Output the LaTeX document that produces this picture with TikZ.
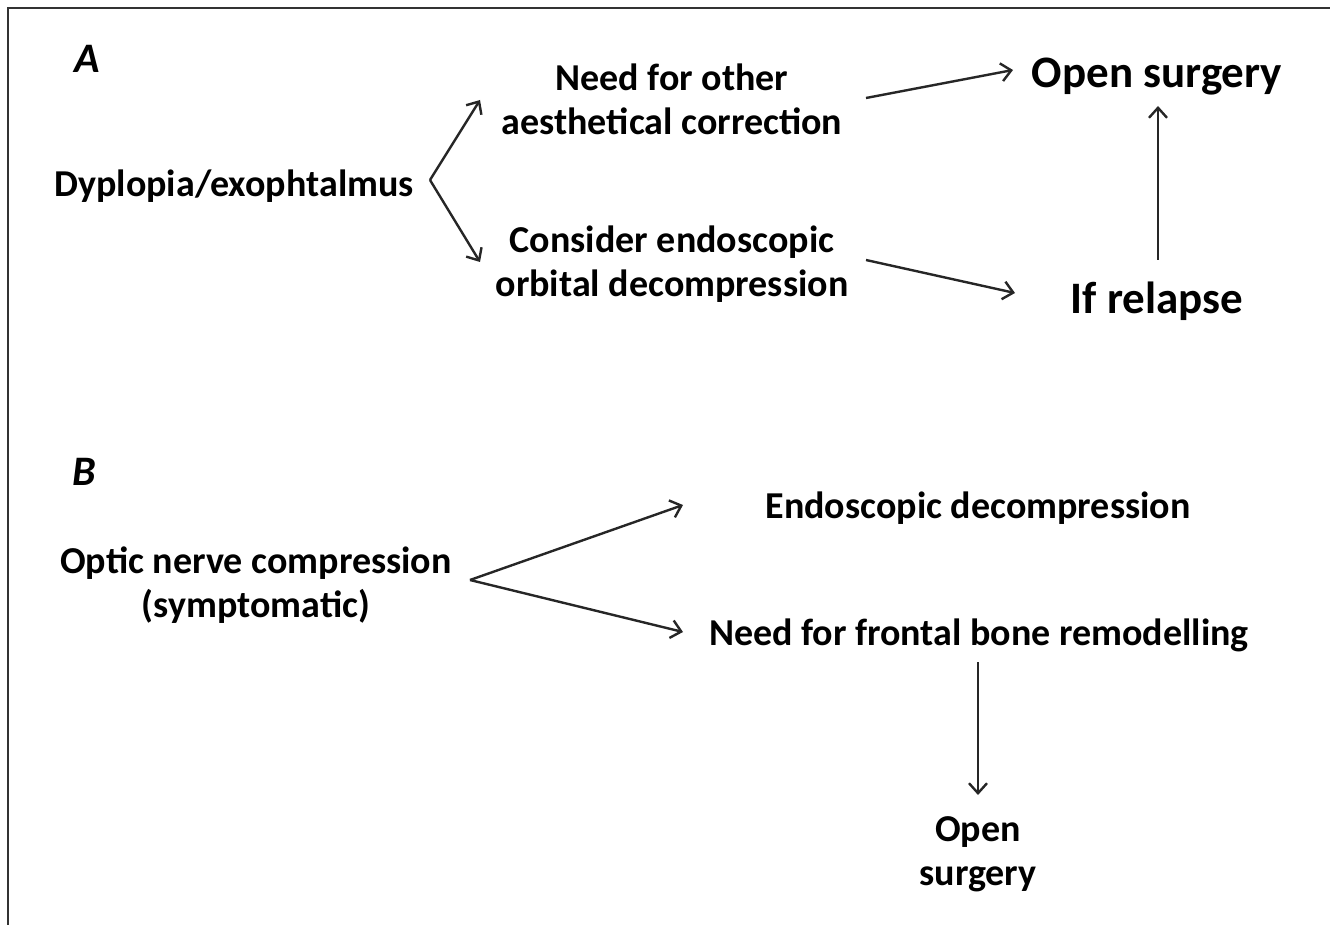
\documentclass[tikz,border=0pt]{standalone}
\usepackage{fontspec}
\setmainfont{Carlito}
\usetikzlibrary{arrows.meta}
\begin{document}
\begin{tikzpicture}[x=1pt,y=-1pt,
  txt/.style={inner sep=0pt, anchor=base, align=center,
    font=\bfseries\fontsize{38}{44}\selectfont},
  big/.style={inner sep=0pt, anchor=base,
    font=\bfseries\fontsize{45}{50}\selectfont},
  lbl/.style={inner sep=0pt, anchor=base,
    font=\bfseries\itshape\fontsize{42}{44}\selectfont},
  arr/.style={line width=2.4pt, black!85, -{Straight Barb[length=10pt,width=18pt,line width=2.4pt]}}]
\useasboundingbox (0,0) rectangle (1330,925);
\draw[line width=1.5pt, black!80] (8,925) -- (8,8) -- (1330,8);
% Panel A
\node[lbl] (A) at (87,73) {A};
\node[txt] (dyp) at (234,197) {Dyplopia/exophtalmus};
\node[txt] (need) at (672,135) {Need for other\\aesthetical correction};
\node[txt] (cons) at (672,297) {Consider endoscopic\\orbital decompression};
\node[big] (open1) at (1157,88) {Open surgery};
\node[big] (relapse) at (1157,313) {If relapse};
\coordinate (apexA) at (430,180);
\coordinate (needL) at (480,100);
\coordinate (consL) at (480,262);
\coordinate (needR) at (866,98);
\coordinate (consR) at (866,260);
\coordinate (o1in) at (1013,70);
\coordinate (r1in) at (1015,293);
\coordinate (rtop) at (1158,260);
\coordinate (o1bot) at (1158,106);
\draw[arr] (apexA) -- (needL);
\draw[arr] (apexA) -- (consL);
\draw[arr] (needR) -- (o1in);
\draw[arr] (consR) -- (r1in);
\draw[arr] (rtop) -- (o1bot);
% Panel B
\node[lbl] (B) at (84,485) {B};
\node[txt] (optic) at (256,617) {Optic nerve compression\\(symptomatic)};
\node[txt] (endo) at (978,518) {Endoscopic decompression};
\node[txt] (front) at (979,645) {Need for frontal bone remodelling};
\node[txt] (open2) at (978,885) {Open\\surgery};
\coordinate (apexB) at (470,580);
\coordinate (endoL) at (683,505);
\coordinate (frontL) at (683,632);
\coordinate (frontB) at (978,662);
\coordinate (open2T) at (978,795);
\draw[arr] (apexB) -- (endoL);
\draw[arr] (apexB) -- (frontL);
\draw[arr] (frontB) -- (open2T);
\end{tikzpicture}
\end{document}
